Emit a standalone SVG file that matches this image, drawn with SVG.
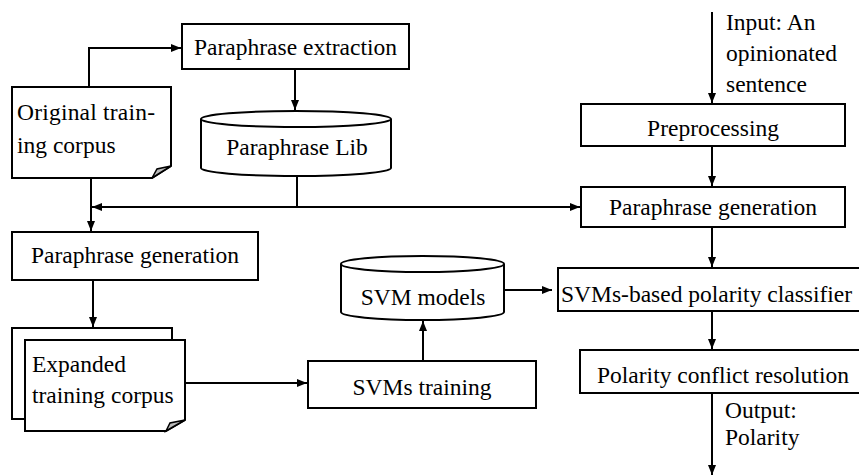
<svg xmlns="http://www.w3.org/2000/svg" width="859" height="476" viewBox="0 0 859 476">
<style>
.b{fill:#fff;stroke:#000;stroke-width:2}
.t{font-family:"Liberation Serif","Times New Roman","DejaVu Serif",serif;font-size:23.5px;fill:#000}
.c{fill:none;stroke:#000;stroke-width:2}
.f{fill:#bbb;stroke:#000;stroke-width:1.5}
</style>
<defs>
<marker id="a" viewBox="0 0 10 10" refX="10" refY="5" markerWidth="10" markerHeight="10" markerUnits="userSpaceOnUse" orient="auto">
<path d="M0,1 L10,5 L0,9 Z" fill="#000"/>
</marker>
</defs>
<rect width="859" height="476" fill="#fff"/>
<g id="connectors">
<path class="c" d="M89,87 V48 H181" marker-end="url(#a)"/>
<path class="c" d="M295,69 V110" marker-end="url(#a)"/>
<path class="c" d="M297,176 V207"/>
<path class="c" d="M297,207 H92" marker-end="url(#a)"/>
<path class="c" d="M297,207 H580" marker-end="url(#a)"/>
<path class="c" d="M91,178 V231" marker-end="url(#a)"/>
<path class="c" d="M93,280 V327" marker-end="url(#a)"/>
<path class="c" d="M185,383 H307" marker-end="url(#a)"/>
<path class="c" d="M423,361 V321" marker-end="url(#a)"/>
<path class="c" d="M504,290 H552" marker-end="url(#a)"/>
<path class="c" d="M712,12 V103" marker-end="url(#a)"/>
<path class="c" d="M712,146 V186" marker-end="url(#a)"/>
<path class="c" d="M712,227 V267" marker-end="url(#a)"/>
<path class="c" d="M712,311 V349" marker-end="url(#a)"/>
<path class="c" d="M712,393 V475" marker-end="url(#a)"/>
</g>
<g id="paraphrase-extraction">
<rect class="b" x="182" y="24" width="227" height="45"/>
<text class="t" x="295.5" y="55" text-anchor="middle">Paraphrase extraction</text>
</g>
<g id="original-corpus">
<path class="b" d="M12,87 H171 V166 L152,178 H12 Z"/>
<path class="f" d="M171,166 L157,169 L152,178 Z"/>
<text class="t" x="17" y="120" textLength="138" lengthAdjust="spacing">Original train-</text>
<text class="t" x="17" y="153">ing corpus</text>
</g>
<g id="paraphrase-lib">
<path class="b" d="M201,119 V168 A95,8 0 0 0 391,168 V119"/>
<ellipse class="b" cx="296" cy="119" rx="95" ry="8"/>
<text class="t" x="297" y="155" text-anchor="middle">Paraphrase Lib</text>
</g>
<g id="paraphrase-generation-left">
<rect class="b" x="12" y="232" width="246" height="48"/>
<text class="t" x="135" y="263" text-anchor="middle">Paraphrase generation</text>
</g>
<g id="expanded-corpus">
<rect class="b" x="12" y="328" width="160" height="91"/>
<path class="b" d="M25,340 H185 V420 L166,431 H25 Z"/>
<path class="f" d="M185,420 L170,423 L166,431 Z"/>
<text class="t" x="32" y="372">Expanded</text>
<text class="t" x="32" y="403">training corpus</text>
</g>
<g id="svms-training">
<rect class="b" x="308" y="361" width="228" height="47"/>
<text class="t" x="422" y="395" text-anchor="middle">SVMs training</text>
</g>
<g id="svm-models">
<path class="b" d="M341,264 V312 A81.5,8 0 0 0 504,312 V264"/>
<ellipse class="b" cx="422.5" cy="264" rx="81.5" ry="8"/>
<text class="t" x="423" y="305" text-anchor="middle">SVM models</text>
</g>
<g id="input-label">
<text class="t" x="726" y="30">Input: An</text>
<text class="t" x="726" y="61">opinionated</text>
<text class="t" x="726" y="92">sentence</text>
</g>
<g id="preprocessing">
<rect class="b" x="581" y="104" width="264" height="42"/>
<text class="t" x="713" y="136" text-anchor="middle">Preprocessing</text>
</g>
<g id="paraphrase-generation-right">
<rect class="b" x="581" y="187" width="264" height="40"/>
<text class="t" x="713" y="215" text-anchor="middle">Paraphrase generation</text>
</g>
<g id="svms-classifier">
<rect class="b" x="558" y="268" width="320" height="43"/>
<text class="t" x="561" y="302">SVMs-based polarity classifier</text>
</g>
<g id="polarity-conflict">
<rect class="b" x="580" y="350" width="300" height="43"/>
<text class="t" x="597" y="383">Polarity conflict resolution</text>
</g>
<g id="output-label">
<text class="t" x="725" y="418">Output:</text>
<text class="t" x="725" y="445">Polarity</text>
</g>
</svg>
